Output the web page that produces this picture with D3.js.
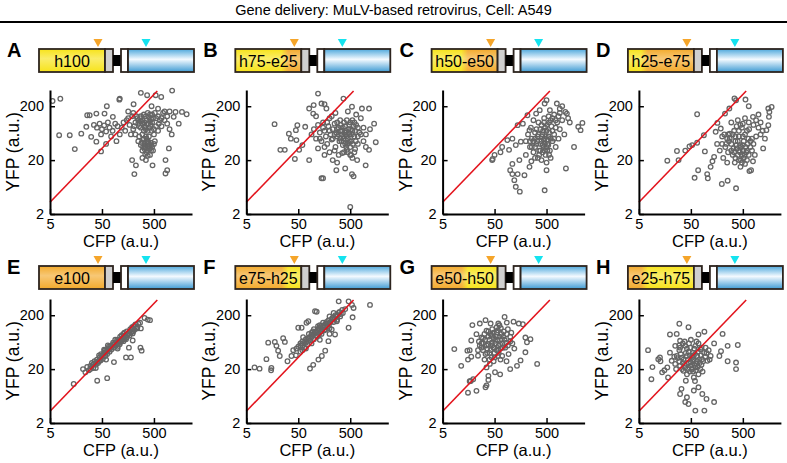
<!DOCTYPE html>
<html>
<head>
<meta charset="utf-8">
<script src="https://cdn.jsdelivr.net/npm/d3@7"></script>
<style>
  html, body { margin: 0; padding: 0; background: #fff; }
  svg { display: block; }
</style>
</head>
<body>
<svg id="chart"></svg>
<script>
const title = "Gene delivery: MuLV-based retrovirus, Cell: A549";
const panelLetters = ["A", "B", "C", "D", "E", "F", "G", "H"];
const constructNames = ["h100", "h75-e25", "h50-e50", "h25-e75", "e100", "e75-h25", "e50-h50", "e25-h75"];
const xLabel = "CFP (a.u.)";
const yLabel = "YFP (a.u.)";
const xTicks = [5, 50, 500];
const yTicks = [2, 20, 200];
const xDomain = [5, 2700];
const yDomain = [2, 400];
// reference diagonal: YFP = ratio * CFP
const diagonalRatio = 0.66;
const diagonalCfp = [5, 580];

// cells, [CFP, YFP]
const cellsA = [
  [5.6,250],[7.9,275],[7.5,58],[12,58],[15,32],[20,62],[26,136],[29,136],[39,146],[25,83],[31,54],[39,44],
  [35,90],[40,80],[45,95],[50,75],[55,88],[60,68],[48,60],[65,100],[70,80],[80,70],[90,95],[100,85],[110,60],
  [75,55],[62,200],[56,146],[81,127],[110,277],[108,265],[60,40],[48,29],[95,45],
  [150,110],[170,90],[190,130],[200,75],[220,100],[240,120],[260,85],[280,105],[300,95],[320,140],[340,80],
  [360,110],[380,70],[400,125],[430,90],[460,100],[500,75],[550,120],[620,95],[700,85],[800,110],[900,130],[1000,75],
  [300,110],[330,100],[270,120],[420,105],[250,95],
  [250,45],[280,38],[300,30],[320,50],[340,35],[360,28],[380,40],[400,32],[420,25],[450,38],[480,30],[520,45],
  [300,22],[350,20],[260,55],[400,55],[220,60],[330,40],[310,35],[370,45],[390,36],[350,55],
  [280,354],[370,320],[540,320],[690,297],[1120,390],[203,218],[450,200],[600,180],[800,160],
  [1730,157],[2130,142],[1300,157],[1200,127],[1500,95],[1100,60],
  [835,11.3],[900,13],[210,11],[225,16],[190,20],[470,16],[835,20],[970,33],
  [290,42],[310,48],[330,32],[350,38],[370,30],[390,44],[410,36],[430,42],[440,30],[460,35],[500,40],[340,26],
  [380,24],[420,33],[360,50],[300,60],[320,70],[350,75],[400,80],[450,70],[500,60],[550,85],[600,70],[650,110],
  [250,110],[230,130],[280,130],[350,130],[420,140],[480,120],[200,150],[160,160],[130,100],[120,80],[140,70],
  [180,60],[160,120],[210,85],[460,140],[520,150],[600,130],[700,120],[750,150],[900,95],[1000,160],[280,80],
  [330,85],[380,95],[440,115],[380,150]
];
const cellsB = [
  [17.5,93],[22.6,31],[27.5,31],[33,62],[36,50],[45,72],[48,89],[43,21],[52,31],[46,47],[60,38],
  [81,20],[68,83],[81,181],[99,210],[120,343],[140,224],[160,218],[174,181],[97,146],[110,130],
  [140,9.2],[150,9.2],[500,2.7],
  [90,60],[100,75],[110,50],[120,90],[130,65],[140,45],[150,100],[160,70],[170,55],[180,40],[190,85],[200,120],
  [210,60],[220,48],[230,75],[250,95],[260,35],[270,65],[280,55],[300,80],[310,45],[320,110],[340,60],[350,70],
  [370,50],[390,65],[400,85],[420,55],[440,40],[460,75],[480,60],[500,100],[520,45],[550,70],[600,55],[650,90],
  [700,40],[750,65],[800,120],[900,80],
  [430,31],[500,25],[550,22],[600,28],[680,20],[350,27],[300,25],[250,30],[200,28],[160,25],[120,33],[230,20],[280,18],
  [1440,95],[1550,43],[1150,31],[990,16],[1000,60],[1200,75],
  [370,277],[540,196],[840,181],[1150,181],[260,150],[450,160],[650,140],
  [540,11],[580,10],[270,13],[400,14],
  [330,70],[360,80],[380,55],[410,70],[430,60],[450,50],[470,65],[490,45],[520,75],[540,60],[580,85],[620,70],
  [300,60],[320,50],[340,45],[360,38],[400,40],[420,35],[460,42],[500,35],[560,40],[640,45],[700,55],[280,75],
  [250,60],[230,50],[200,70],[180,100],[220,130],[280,100],[330,90],[380,100],[430,110],[480,90],[550,110],
  [600,100],[700,80],[800,60],[900,45],[1000,35],[150,80],[130,50],[160,35],[380,28],[450,28],[520,25],[620,32]
];
const cellsC = [
  [45,20],[46,21],[50,25],[65,28],[70,35],[88,47],
  [100,13],[110,11],[128,6.4],[153,5.2],[120,8.5],[139,11],[188,10.5],[235,15],
  [110,17],[150,20],[200,25],[255,19],[95,31],[128,38],[160,44],[110,50],
  [139,89],[175,95],[215,136],[235,72],
  [200,45],[220,60],[240,35],[260,50],[280,28],[300,65],[320,40],[340,55],[360,30],[380,75],[400,45],[420,60],
  [440,35],[460,50],[480,25],[500,70],[520,40],[550,55],[580,30],[620,85],[650,45],[700,60],[750,35],[800,100],
  [850,50],[900,75],[1000,110],[1100,60],[300,22],[400,20],[500,18],[600,22],[350,100],[450,120],[550,130],
  [700,140],[250,80],[280,110],
  [500,258],[460,224],[790,224],[580,169],[370,169],[315,146],[900,180],[1000,200],
  [1150,157],[1230,146],[1690,35],[2040,83],[2260,72],[2450,98],[1180,14],[1300,120],[1400,100],
  [460,5.5],[500,13],
  [380,40],[400,55],[420,38],[440,48],[460,40],[480,55],[500,35],[520,48],[540,38],[560,65],[600,50],[430,70],
  [470,80],[510,90],[560,100],[600,110],[650,70],[700,50],[750,80],[380,30],[420,28],[460,30],[520,30],[560,25],
  [330,45],[300,35],[280,45],[260,35],[240,45],[350,60],[320,75],[400,90],[450,100],[650,120],[750,110],[850,130],
  [900,150],[300,50],[360,25],[340,22]
];
const cellsD = [
  [17.6,19.5],[27,29.5],[29,20],[39,30],[47,36],[53,38],
  [59,9.4],[66,42],[69,13],[89,58],[93,29],[66,142],
  [103,11],[106,9.2],[120,15],[130,19],[140,23],
  [150,67],[162,98],[188,77],[227,146],[275,181],[345,278],[370,258],
  [160,40],[180,30],[200,55],[210,22],[230,35],[250,50],[260,28],[280,62],[300,40],[320,25],[340,70],[360,45],
  [380,33],[400,25],[420,55],[440,38],[460,20],[480,80],[500,30],[520,45],[550,60],[580,28],[620,40],[660,75],
  [700,35],[750,50],[800,90],[850,25],[300,100],[400,110],[500,95],[350,18],[450,15],[550,17],[250,18],[200,40],
  [270,45],[330,33],
  [197,7.2],[255,8.3],[370,6],
  [1545,181],[1620,157],[1790,194],[1590,127],[1545,89],[1420,72],[1330,50],[1230,33],[784,19],[720,13],[670,12.5],
  [1000,140],[1100,60],[900,110],
  [562,266],[784,127],[650,200],
  [380,38],[420,30],[440,28],[460,35],[480,25],[500,38],[520,30],[540,25],[560,35],[600,30],[640,50],[400,45],
  [360,55],[320,60],[280,50],[260,60],[240,40],[300,30],[340,28],[360,22],[420,20],[480,18],[520,22],[600,20],
  [650,25],[700,45],[750,30],[800,40],[900,55],[1000,80],[1100,100],[1200,70],[600,70],[500,55],[420,70],[380,85],
  [450,90],[550,120],[650,100],[220,60]
];
const cellsE = [
  [14.3,10.6],[21.6,20],[24,17.4],[40.5,12.2],[63,13.6],
  [26,22],[28,19],[30,23],[32,26],[34,21],[36,28],[38,24],[40,30],[42,26],[45,33],[47,29],[50,36],[52,31],
  [55,40],[58,35],[60,44],[63,38],[66,47],[70,42],[72,52],[76,46],[80,56],[84,50],[88,60],[92,54],[96,64],
  [100,58],[105,68],[110,62],[115,72],[120,66],[128,78],[135,72],[142,84],[150,78],[160,90],[170,84],[180,96],
  [195,92],[210,108],[225,114],[240,120],[200,100],[55,46],[65,55],[90,70],[130,90],[44,36],[60,30],[100,48],
  [165,50],[180,33],[145,33],[85,27],[275,50],[290,44],[280,114],[195,68],
  [330,178],[380,166],[420,162],[237,114],[195,114],
  [35,25],[40,27],[46,31],[52,35],[58,40],[64,43],[70,48],[78,52],[85,58],[95,60],[105,64],[115,68],[125,74],
  [140,80],[155,86],[170,92],[185,100],[48,38],[56,44],[68,52],[82,62],[98,70],[112,80],[120,85],[135,95],
  [150,100],[175,110],[190,120],[205,125],[220,135],[250,140],[270,145],[30,20],[33,24],[38,21],[44,28],
  [100,52],[110,58],[130,66],[145,72]
];
const cellsF = [
  [7.2,21.5],[9,20.4],[12.2,30.6],[13.2,62],[15.2,21],
  [17.7,64],[19,54],[20.5,44],[22,35],[15,19],
  [25.6,75],[27.6,64],[31,28],[37,35],[46,48],
  [50,117],[58,117],[72,145],[78,155],[62,78],
  [40,45],[45,36],[50,52],[55,42],[60,65],[65,50],[70,72],[75,58],[80,90],[85,68],[90,78],[95,100],[100,72],
  [110,95],[115,80],[120,110],[125,88],[130,130],[140,100],[150,120],[160,105],[170,140],[180,125],[190,160],
  [200,115],[220,170],[240,150],[260,200],[280,165],[300,220],[320,190],[350,250],[90,60],[70,48],[55,55],
  [130,70],[200,90],
  [105,237],[113,232],[300,362],[465,362],[540,311],[580,273],[1200,311],[555,183],[465,117],[276,155],[220,109],
  [165,44],[142,35],[122,30],[97,24],[84,20.5],[190,66],[255,88],
  [60,55],[65,62],[72,66],[78,75],[85,80],[92,88],[100,90],[108,100],[118,105],[125,115],[135,120],[145,110],
  [155,130],[165,125],[175,150],[185,140],[195,135],[210,150],[230,180],[250,170],[270,190],[290,200],[310,230],
  [330,210],[360,220],[400,260],[100,110],[80,75],[70,62],[60,45],[110,85],[140,90],[170,110],[150,145],
  [130,115],[200,190],[240,220],[120,125],[90,95],[55,60]
];
const cellsG = [
  [8.4,47],[11.4,23],[15,44],[16.6,45],[15.4,30],[17.8,34],
  [17.4,12],[19.4,13],[16.6,11.9],[15.4,7.3],[22.4,7.9],
  [33.5,9.2],[35,10],[38,12.6],
  [18.7,131],[17.8,68],[26,140],[33.5,162],
  [59,140],[78,186],[86,146],[116,152],[146,140],[175,136],
  [196,77],[210,63],[245,72],[196,41],[135,23],[158,29],[100,20],[330,25],
  [64,16],[51,17.5],[38,15],
  [22.4,89],[28,77],[35,103],[44,83],[55,96],[69,72],[86,89],[38,58],[47.5,50],[59,44],[28,50],[33.5,38],
  [44,33],[24,35.5],[80,50],[93,38],[51,67],[64,58],[40.5,25],[35,21.5],
  [30,60],[40,70],[50,40],[60,55],[70,35],[45,110],[55,120],[75,100],[100,80],[110,60],[120,48],[25,65],
  [32,90],[65,30],[85,28],[48,28],[42,45],[36,48],[55,80],[70,60],
  [28,60],[33,70],[38,80],[42,90],[48,75],[52,60],[56,70],[62,80],[68,90],[74,80],[40,40],[45,55],[50,50],
  [55,45],[60,40],[65,48],[72,50],[30,45],[35,55],[36,40],[44,62],[48,95],[58,105],[66,115],[78,70],[84,62],
  [90,55],[100,65],[32,30],[40,30],[50,33],[58,35],[26,55],[24,45],[30,75],[38,100],[62,130],[42,140],[90,110],
  [105,95]
];
const cellsH = [
  [7.5,45],[9.1,21.8],[8.7,13],[11.8,30.6],[12.7,33],[14,17.4],[17.6,21.5],[18.2,14],[13,28],[15.5,19],
  [19.8,88],[26.7,90],[30,139],[45,120],[70,88],[91,99],[204,90],[255,54],[31,67],
  [255,28],[370,26.5],[370,20],[400,56],[190,43],[177,35],
  [31,6.9],[39,4.9],[42,6],[61,3.4],[91,3.4],[100,5.6],[140,4.9],[57,8],[70,9.2],[33,8.6],[45,4.5],[83,6.9],
  [25,54],[31,50],[39,54],[49,50],[61,54],[76,46.6],[96,50],[26.7,35],[33.5,32.7],[42,35],[53,32.7],[66,35],
  [82,30.6],[31,23],[39,21.5],[49,23],[61,21.5],[76,20],[42,16],[57,14],[36,18.6],[70,16],[19.8,40.4],
  [21.4,28.5],[104,28.5],[120,35],
  [30,45],[45,42],[55,40],[65,28],[35,26],[50,27],[80,24],[90,40],[40,12.2],[55,18],[25,25],[110,45],
  [140,60],[70,60],[50,70],[35,60],
  [28,32],[32,38],[36,30],[40,40],[44,30],[48,36],[52,24],[56,30],[60,38],[64,25],[68,42],[72,30],[78,36],
  [86,28],[94,34],[30,28],[34,20],[38,24],[44,20],[48,18],[52,20],[58,24],[62,19],[68,22],[74,26],[84,18],
  [46,26],[54,35],[42,48],[58,48],[30,55],[38,65],[46,60],[64,65],[80,50],[100,40],[115,30],[26,20],[24,34],
  [60,12]
];
const panelCells = [cellsA, cellsB, cellsC, cellsD, cellsE, cellsF, cellsG, cellsH];

const W = 787, H = 463;
const FONT = "'Liberation Sans', Arial, Helvetica, sans-serif";
const YELLOW = "#f7e31a", ORANGE = "#f3aa2c", BLUE = "#4ea8dc";
const OUTLINE = "#2d241e";

const svg = d3.select("#chart")
  .attr("width", W).attr("height", H)
  .attr("viewBox", `0 0 ${W} ${H}`)
  .style("font-family", FONT);

svg.append("text")
  .attr("x", W / 2).attr("y", 15)
  .attr("text-anchor", "middle")
  .attr("font-size", 14.5)
  .text(title);

svg.append("line")
  .attr("x1", 0).attr("x2", W).attr("y1", 22).attr("y2", 22)
  .attr("stroke", "#000").attr("stroke-width", 2);

const defs = svg.append("defs");

// white sheen across the coloured boxes
const gloss = defs.append("linearGradient").attr("id", "gloss")
  .attr("x1", 0).attr("x2", 0).attr("y1", 0).attr("y2", 1);
gloss.append("stop").attr("offset", 0).attr("stop-color", "#fff").attr("stop-opacity", 0);
gloss.append("stop").attr("offset", 0.42).attr("stop-color", "#fff").attr("stop-opacity", 0.35);
gloss.append("stop").attr("offset", 1).attr("stop-color", "#fff").attr("stop-opacity", 0);

const blueGrad = defs.append("linearGradient").attr("id", "blue")
  .attr("x1", 0).attr("x2", 0).attr("y1", 0).attr("y2", 1);
blueGrad.append("stop").attr("offset", 0).attr("stop-color", BLUE);
blueGrad.append("stop").attr("offset", 0.45).attr("stop-color", "#f4faff");
blueGrad.append("stop").attr("offset", 1).attr("stop-color", "#3f9bd3");

const COL = 196.3;
const PLOT_W = 142, PLOT_H = 124;

panelLetters.forEach((letter, i) => {
  const col = i % 4, row = Math.floor(i / 4);
  const ax = 50 + col * COL;
  const bottom = 214 + row * 209;
  const by = 49 + row * 217;
  const bx = ax - 11;

  // --- construct diagram ---
  svg.append("text")
    .attr("x", ax - 43).attr("y", by + 8)
    .attr("font-size", 20).attr("font-weight", "bold")
    .text(letter);

  const segs = constructNames[i].split("-").map(s => ({ type: s[0], pct: +s.slice(1) }));
  const grad = defs.append("linearGradient").attr("id", "fill" + i)
    .attr("x1", 0).attr("x2", 1).attr("y1", 0).attr("y2", 0);
  let acc = 0;
  segs.forEach((s, k) => {
    const c = s.type === "h" ? YELLOW : ORANGE;
    const from = acc / 100, to = (acc + s.pct) / 100;
    grad.append("stop").attr("offset", k === 0 ? 0 : from + 0.05).attr("stop-color", c);
    grad.append("stop").attr("offset", k === segs.length - 1 ? 1 : to - 0.05).attr("stop-color", c);
    acc += s.pct;
  });

  const g = svg.append("g");
  g.append("rect").attr("x", bx).attr("y", by).attr("width", 66).attr("height", 23)
    .attr("fill", `url(#fill${i})`);
  g.append("rect").attr("x", bx).attr("y", by).attr("width", 66).attr("height", 23)
    .attr("fill", "url(#gloss)").attr("stroke", OUTLINE).attr("stroke-width", 1.8);
  g.append("rect").attr("x", bx + 66).attr("y", by).attr("width", 8).attr("height", 23)
    .attr("fill", "#cfcfcf").attr("stroke", OUTLINE).attr("stroke-width", 1.8);
  g.append("rect").attr("x", bx + 74).attr("y", by + 6).attr("width", 8).attr("height", 11)
    .attr("fill", "#000");
  g.append("rect").attr("x", bx + 82).attr("y", by).attr("width", 7).attr("height", 23)
    .attr("fill", "#fff").attr("stroke", OUTLINE).attr("stroke-width", 1.8);
  g.append("rect").attr("x", bx + 89).attr("y", by).attr("width", 66).attr("height", 23)
    .attr("fill", "url(#blue)").attr("stroke", OUTLINE).attr("stroke-width", 1.8);

  g.append("text")
    .attr("x", bx + 33).attr("y", by + 17.5)
    .attr("text-anchor", "middle").attr("font-size", 16)
    .text(constructNames[i]);

  const tri = cx => `M${cx - 4.5},${by - 10}L${cx + 4.5},${by - 10}L${cx},${by - 2}Z`;
  g.append("path").attr("d", tri(bx + 59)).attr("fill", "#f5a52a");
  g.append("path").attr("d", tri(bx + 107)).attr("fill", "#14e3ef");

  // --- scatter ---
  const x = d3.scaleLog().domain(xDomain).range([ax, ax + PLOT_W]);
  const y = d3.scaleLog().domain(yDomain).range([bottom, bottom - PLOT_H]);

  svg.append("g")
    .selectAll("circle")
    .data(panelCells[i])
    .join("circle")
    .attr("cx", d => x(d[0]))
    .attr("cy", d => y(d[1]))
    .attr("r", 2.3)
    .attr("fill", "none")
    .attr("stroke", "#656565")
    .attr("stroke-width", 1.3);

  const diag = diagonalCfp.map(c => [c, c * diagonalRatio]);
  svg.append("path")
    .datum(diag)
    .attr("d", d3.line().x(d => x(d[0])).y(d => y(d[1])))
    .attr("stroke", "#e3141d").attr("stroke-width", 1.6).attr("fill", "none");

  const xAxis = svg.append("g")
    .attr("transform", `translate(0,${bottom})`)
    .call(d3.axisBottom(x).tickValues(xTicks).tickFormat(d3.format("d"))
      .tickSizeInner(-5).tickSizeOuter(0).tickPadding(5));
  const yAxis = svg.append("g")
    .attr("transform", `translate(${ax},0)`)
    .call(d3.axisLeft(y).tickValues(yTicks).tickFormat(d3.format("d"))
      .tickSizeInner(-5).tickSizeOuter(0).tickPadding(6));
  [xAxis, yAxis].forEach(a => {
    a.select(".domain").attr("stroke-width", 2);
    a.selectAll(".tick line").attr("stroke-width", 1.5);
    a.selectAll("text").attr("font-size", 14.5).attr("font-family", FONT).attr("fill", "#000");
  });

  svg.append("text")
    .attr("x", ax + PLOT_W / 2).attr("y", bottom + 33)
    .attr("text-anchor", "middle").attr("font-size", 16.5)
    .text(xLabel);
  svg.append("text")
    .attr("transform", `translate(${ax - 31},${bottom - PLOT_H / 2}) rotate(-90)`)
    .attr("text-anchor", "middle").attr("font-size", 17.5)
    .text(yLabel);
});
</script>
</body>
</html>
